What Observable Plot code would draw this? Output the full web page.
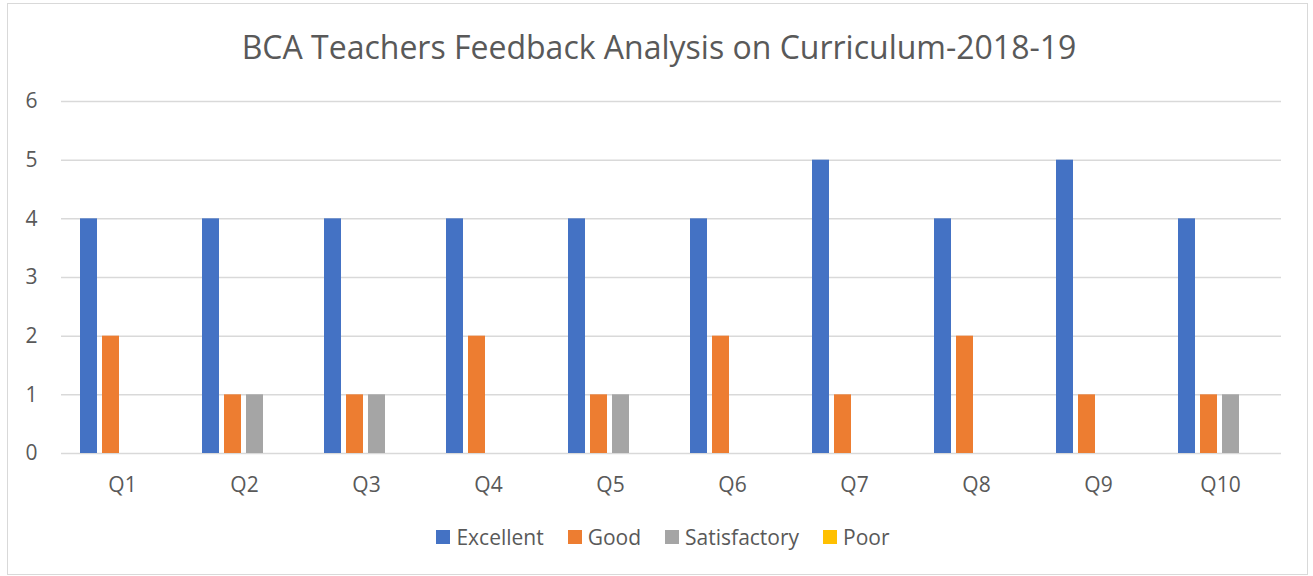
<!DOCTYPE html>
<html>
<head>
<meta charset="utf-8">
<script src="https://cdn.jsdelivr.net/npm/d3@7"></script>
<script src="https://cdn.jsdelivr.net/npm/@observablehq/plot@0.6"></script>
<style>
  body { margin: 0; background: #fff; }
  #wrap { position: relative; width: 1313px; height: 576px; overflow: hidden; font-family: "Open Sans", sans-serif; color: #595959; }
  #frame { position: absolute; left: 7px; top: 3px; width: 1299px; height: 570px; border: 1px solid #d9d9d9; }
  #title { position: absolute; left: 0; width: 1318px; top: 25px; text-align: center; font-size: 32px; line-height: 44px; }
  #chart { position: absolute; left: 0; top: 80px; }
  #legend { position: absolute; left: 0; width: 1326px; top: 524px; display: flex; justify-content: center; font-size: 21px; line-height: 26px; }
  .item { display: flex; align-items: center; margin: 0 12px; }
  .sw { width: 14px; height: 14px; margin-right: 6px; }
</style>
</head>
<body>
<div id="wrap">
  <div id="frame"></div>
  <div id="title">BCA Teachers Feedback Analysis on Curriculum-2018-19</div>
  <div id="chart"></div>
  <div id="legend"></div>
</div>
<script>
const questions = ["Q1","Q2","Q3","Q4","Q5","Q6","Q7","Q8","Q9","Q10"];
const series = ["Excellent","Good","Satisfactory","Poor"];
const colors = ["#4472C4","#ED7D31","#A5A5A5","#FFC000"];
const excellent = [4,4,4,4,4,4,5,4,5,4];
const good = [2,1,1,2,1,2,1,2,1,1];
const satisfactory = [0,1,1,0,1,0,0,0,0,1];
const poor = [0,0,0,0,0,0,0,0,0,0];
const yTicks = [0,1,2,3,4,5,6];

const seriesValues = [excellent, good, satisfactory, poor];
const data = [];
questions.forEach((q, i) => {
  series.forEach((s, j) => data.push({q, series: s, value: seriesValues[j][i]}));
});

const chart = Plot.plot({
  width: 1313,
  height: 420,
  marginLeft: 59,
  marginRight: 31,
  marginTop: 21,
  marginBottom: 47,
  style: {fontFamily: "Open Sans, sans-serif", fontSize: "21px", color: "#595959", background: "transparent"},
  fx: {domain: questions, padding: 0, axis: "bottom", tickSize: 0, tickPadding: 24, label: null},
  x: {domain: series, paddingInner: 0.224, paddingOuter: 0.82, axis: null},
  y: {domain: [0, 6], ticks: yTicks, tickSize: 0, tickPadding: 24, label: null, tickFormat: d3.format("d")},
  color: {domain: series, range: colors},
  marks: [
    Plot.ruleY(yTicks, {stroke: "#d9d9d9", strokeWidth: 1.5}),
    Plot.barY(data, {fx: "q", x: "series", y: "value", fill: "series"})
  ]
});
document.getElementById("chart").appendChild(chart);

const legend = document.getElementById("legend");
series.forEach((s, i) => {
  const item = document.createElement("div");
  item.className = "item";
  const sw = document.createElement("div");
  sw.className = "sw";
  sw.style.background = colors[i];
  const t = document.createElement("span");
  t.textContent = s;
  item.appendChild(sw);
  item.appendChild(t);
  legend.appendChild(item);
});
</script>
</body>
</html>
